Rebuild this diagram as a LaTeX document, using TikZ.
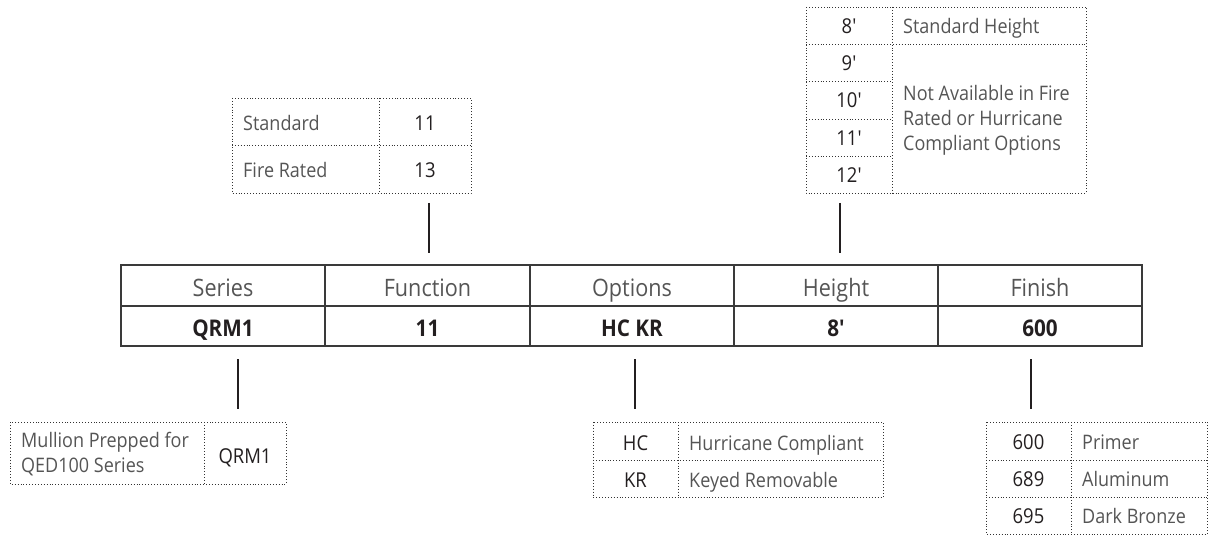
\documentclass[tikz,border=0pt]{standalone}
\usepackage{fontspec}
\setmainfont{Open Sans}[Ligatures=TeXOff, FakeStretch=0.9]
\definecolor{txtgray}{HTML}{555555}
\definecolor{codeblack}{HTML}{231F20}
\definecolor{linegray}{HTML}{3A3A3A}
\definecolor{dotgray}{HTML}{333333}
\begin{document}
\begin{tikzpicture}[x=1pt,y=-1pt,
  hdr/.style={font=\fontsize{24}{28}\selectfont, text=txtgray, text height=22.4pt, text depth=0pt},
  cod/.style={font=\fontsize{23}{28}\selectfont\bfseries, text=codeblack, text height=20pt, text depth=0pt},
  mcell/.style={draw=linegray, line width=1.3pt, minimum width=204pt, inner sep=0pt},
  dtxt/.style={font=\fontsize{20}{25}\selectfont, text=txtgray, inner sep=0pt, text height=16pt, text depth=0pt},
  dpar/.style={font=\fontsize{20}{25}\selectfont, text=txtgray, inner sep=0pt, align=left},
  dcode/.style={font=\fontsize{20.5}{25}\selectfont, text=codeblack, inner sep=0pt, text height=16pt, text depth=0pt},
  dots/.style={draw=dotgray, line width=0.9pt, dash pattern=on 0.9pt off 2pt},
  conn/.style={draw=codeblack, line width=1.2pt}]
\useasboundingbox (0,0) rectangle (1214,537);

% main table
\node[mcell, minimum height=41pt, hdr] (hs) at (223,285.5) {Series};
\node[mcell, minimum height=41pt, hdr] (hf) at (427.5,285.5) {Function};
\node[mcell, minimum height=41pt, hdr] (ho) at (632,285.5) {Options};
\node[mcell, minimum height=41pt, hdr] (hh) at (836,285.5) {Height};
\node[mcell, minimum height=41pt, hdr] (hn) at (1040,285.5) {Finish};
\node[mcell, minimum height=40pt, cod] (cs) at (223,326) {QRM1};
\node[mcell, minimum height=40pt, cod] (cf) at (427.5,326) {11};
\node[mcell, minimum height=40pt, cod] (co) at (632,326) {HC KR};
\node[mcell, minimum height=40pt, cod] (ch) at (836,326) {8'};
\node[mcell, minimum height=40pt, cod] (cn) at (1040,326) {600};

% function table
\draw[dots] (232,98) rectangle (471,193);
\draw[dots] (379,98) -- (379,193);
\draw[dots] (232,145.5) -- (471,145.5);
\node[dtxt, anchor=west] (fst) at (243,122.5) {Standard};
\node[dcode] (fsv) at (425,122.5) {11};
\node[dtxt, anchor=west] (frt) at (243,170) {Fire Rated};
\node[dcode] (frv) at (425,170) {13};

% height table
\draw[dots] (806,7) rectangle (1086,193);
\draw[dots] (892,7) -- (892,193);
\draw[dots] (806,44) -- (1086,44);
\draw[dots] (806,81) -- (892,81);
\draw[dots] (806,119) -- (892,119);
\draw[dots] (806,156) -- (892,156);
\node[dcode] (h8) at (849,25.5) {8'};
\node[dcode] (h9) at (849,62.5) {9'};
\node[dcode] (h10) at (849,100) {10'};
\node[dcode] (h11) at (849,137.5) {11'};
\node[dcode] (h12) at (849,174.5) {12'};
\node[dtxt, anchor=west] (hstd) at (903,25.5) {Standard Height};
\node[dpar, anchor=west] (hna) at (903,120.5) {Not Available in Fire\\Rated or Hurricane\\Compliant Options};

% series table
\draw[dots] (10,422) rectangle (286,484);
\draw[dots] (204,422) -- (204,484);
\node[dpar, anchor=west] (mul) at (21,454.5) {Mullion Prepped for\\QED100 Series};
\node[dcode] (mq) at (245,455) {QRM1};

% options table
\draw[dots] (593,422) rectangle (883,497);
\draw[dots] (678,422) -- (678,497);
\draw[dots] (593,460) -- (883,460);
\node[dcode] (ohc) at (635.5,442) {HC};
\node[dtxt, anchor=west] (ohct) at (689,442) {Hurricane Compliant};
\node[dcode] (okr) at (635.5,479.5) {KR};
\node[dtxt, anchor=west] (okrt) at (689,479.5) {Keyed Removable};

% finish table
\draw[dots] (986,422) rectangle (1207,534);
\draw[dots] (1071,422) -- (1071,534);
\draw[dots] (986,460) -- (1207,460);
\draw[dots] (986,497) -- (1207,497);
\node[dcode] (f600) at (1028.5,441) {600};
\node[dtxt, anchor=west] (f600t) at (1082,441) {Primer};
\node[dcode] (f689) at (1028.5,478.5) {689};
\node[dtxt, anchor=west] (f689t) at (1082,478.5) {Aluminum};
\node[dcode] (f695) at (1028.5,515.5) {695};
\node[dtxt, anchor=west] (f695t) at (1082,515.5) {Dark Bronze};

% connectors
\coordinate (kfa) at (429,203); \coordinate (kfb) at (429,253);
\coordinate (kha) at (840,203); \coordinate (khb) at (840,253);
\coordinate (ksa) at (238,359); \coordinate (ksb) at (238,409);
\coordinate (koa) at (635,359); \coordinate (kob) at (635,409);
\coordinate (kna) at (1031,359); \coordinate (knb) at (1031,409);
\draw[conn] (kfa) -- (kfb);
\draw[conn] (kha) -- (khb);
\draw[conn] (ksa) -- (ksb);
\draw[conn] (koa) -- (kob);
\draw[conn] (kna) -- (knb);
\end{tikzpicture}
\end{document}
